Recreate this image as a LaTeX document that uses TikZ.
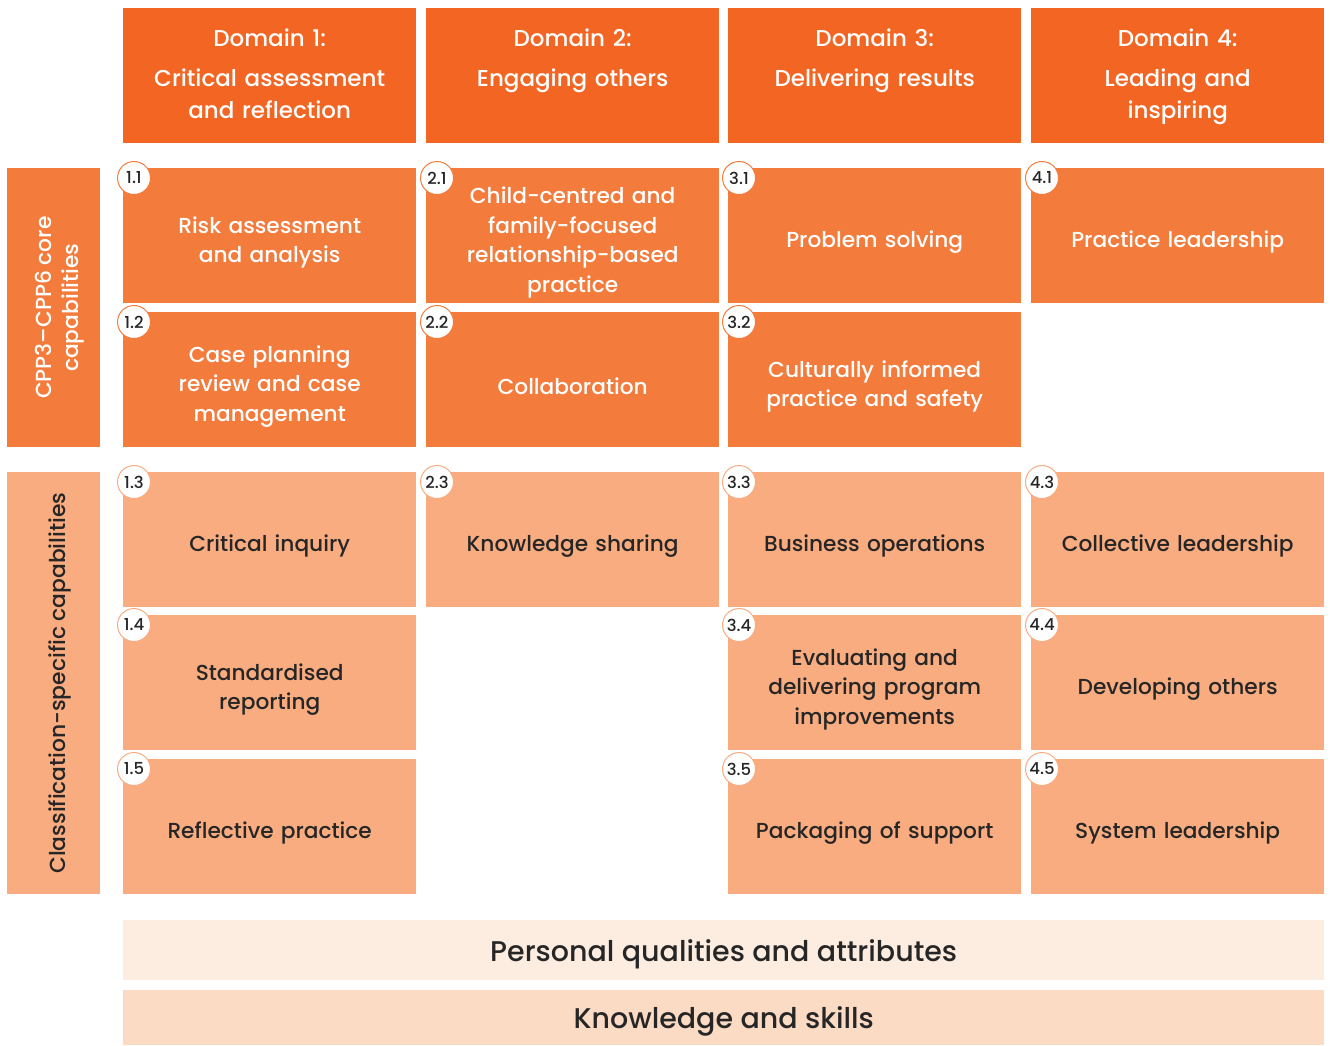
\documentclass[tikz,border=0pt]{standalone}
\usepackage{fontspec}
\setmainfont{Poppins}[UprightFont=* Medium]
\usepackage{tikz}
\usetikzlibrary{positioning}

\definecolor{domainorange}{HTML}{F26522}
\definecolor{coreorange}{HTML}{F37B3C}
\definecolor{clsorange}{HTML}{F8AC80}
\definecolor{paleorange}{HTML}{FDECE0}
\definecolor{lightorange}{HTML}{FCDBC5}
\definecolor{darktext}{HTML}{262626}

\tikzset{
  cellbox/.style={rectangle, inner sep=0pt, minimum width=293pt, minimum height=135pt,
    text width=288pt, align=center, anchor=north west},
  domainbox/.style={cellbox, fill=domainorange, text=white, font=\fontsize{23}{32}\selectfont,
    execute at begin node=\rule{0pt}{23pt}},
  corebox/.style={cellbox, fill=coreorange, text=white, font=\fontsize{21.7}{29.5}\selectfont,
    execute at begin node=\rule{0pt}{30pt}},
  clsbox/.style={cellbox, fill=clsorange, text=darktext, font=\fontsize{21.7}{29.5}\selectfont,
    execute at begin node=\rule{0pt}{30pt}},
  badge/.style={circle, draw=#1, fill=white, line width=1pt, minimum size=33pt,
    inner sep=0pt, text=darktext, font=\fontsize{16.5}{16.5}\selectfont},
  sidebox/.style={rectangle, inner sep=0pt, minimum width=93pt, anchor=north west},
  sidetext/.style={rotate=90, align=center, font=\fontsize{21.8}{27}\selectfont},
  barbox/.style={rectangle, inner sep=0pt, minimum width=1201pt, anchor=north west,
    text=darktext, text depth=0pt, font=\fontsize{28.5}{30}\selectfont}
}

\begin{document}
\begin{tikzpicture}[x=1pt, y=-1pt]
        \useasboundingbox (0, 0) rectangle (1330, 1045);

        % domain headers
        \node[domainbox] (d1) at (123, 8) {Domain 1:\\[8pt]Critical assessment\\and reflection\strut};
        \node[domainbox] (d2) at (426, 8) {Domain 2:\\[8pt]Engaging others\\\strut};
        \node[domainbox] (d3) at (728, 8) {Domain 3:\\[8pt]Delivering results\\\strut};
        \node[domainbox] (d4) at (1031, 8) {Domain 4:\\[8pt]Leading and\\inspiring\strut};

        % side labels
        \node[sidebox, minimum height=279pt, fill=coreorange] (sidecore) at (7, 168) {};
        \node[sidetext, text=white] (sidecoretext) at ([xshift=6pt]sidecore.center) {CPP3--CPP6 core\\capabilities};
        \node[sidebox, minimum height=422pt, fill=clsorange] (sidecls) at (7, 472) {};
        \node[sidetext, text=darktext] (sideclstext) at ([xshift=6pt]sidecls.center) {Classification-specific capabilities};

        % core capabilities
        \node[corebox] (c11) at (123, 168) {Risk assessment\\and analysis};
        \node[corebox] (c21) at (426, 168) {Child-centred and\\family-focused\\relationship-based\\practice};
        \node[corebox] (c31) at (728, 168) {Problem solving};
        \node[corebox] (c41) at (1031, 168) {Practice leadership};
        \node[corebox] (c12) at (123, 312) {Case planning\\review and case\\management};
        \node[corebox] (c22) at (426, 312) {Collaboration};
        \node[corebox] (c32) at (728, 312) {Culturally informed\\practice and safety};

        % classification-specific capabilities
        \node[clsbox] (c13) at (123, 472) {Critical inquiry};
        \node[clsbox] (c23) at (426, 472) {Knowledge sharing};
        \node[clsbox] (c33) at (728, 472) {Business operations};
        \node[clsbox] (c43) at (1031, 472) {Collective leadership};
        \node[clsbox] (c14) at (123, 615) {Standardised\\reporting};
        \node[clsbox] (c34) at (728, 615) {Evaluating and\\delivering program\\improvements};
        \node[clsbox] (c44) at (1031, 615) {Developing others};
        \node[clsbox] (c15) at (123, 759) {Reflective practice};
        \node[clsbox] (c35) at (728, 759) {Packaging of support};
        \node[clsbox] (c45) at (1031, 759) {System leadership};

        % number badges
        \node[badge=coreorange, xshift=11pt, yshift=-10pt] (n11) at (c11.north west) {1.1};
        \node[badge=coreorange, xshift=11pt, yshift=-10pt] (n21) at (c21.north west) {2.1};
        \node[badge=coreorange, xshift=11pt, yshift=-10pt] (n31) at (c31.north west) {3.1};
        \node[badge=coreorange, xshift=11pt, yshift=-10pt] (n41) at (c41.north west) {4.1};
        \node[badge=coreorange, xshift=11pt, yshift=-10pt] (n12) at (c12.north west) {1.2};
        \node[badge=coreorange, xshift=11pt, yshift=-10pt] (n22) at (c22.north west) {2.2};
        \node[badge=coreorange, xshift=11pt, yshift=-10pt] (n32) at (c32.north west) {3.2};
        \node[badge=clsorange, xshift=11pt, yshift=-10pt] (n13) at (c13.north west) {1.3};
        \node[badge=clsorange, xshift=11pt, yshift=-10pt] (n23) at (c23.north west) {2.3};
        \node[badge=clsorange, xshift=11pt, yshift=-10pt] (n33) at (c33.north west) {3.3};
        \node[badge=clsorange, xshift=11pt, yshift=-10pt] (n43) at (c43.north west) {4.3};
        \node[badge=clsorange, xshift=11pt, yshift=-10pt] (n14) at (c14.north west) {1.4};
        \node[badge=clsorange, xshift=11pt, yshift=-10pt] (n34) at (c34.north west) {3.4};
        \node[badge=clsorange, xshift=11pt, yshift=-10pt] (n44) at (c44.north west) {4.4};
        \node[badge=clsorange, xshift=11pt, yshift=-10pt] (n15) at (c15.north west) {1.5};
        \node[badge=clsorange, xshift=11pt, yshift=-10pt] (n35) at (c35.north west) {3.5};
        \node[badge=clsorange, xshift=11pt, yshift=-10pt] (n45) at (c45.north west) {4.5};

        % bottom bars
        \node[barbox, minimum height=60pt, fill=paleorange] (personal) at (123, 920) {Personal qualities and attributes};
        \node[barbox, minimum height=55pt, fill=lightorange] (knowledge) at (123, 990) {Knowledge and skills};
     \end{tikzpicture}
\end{document}
